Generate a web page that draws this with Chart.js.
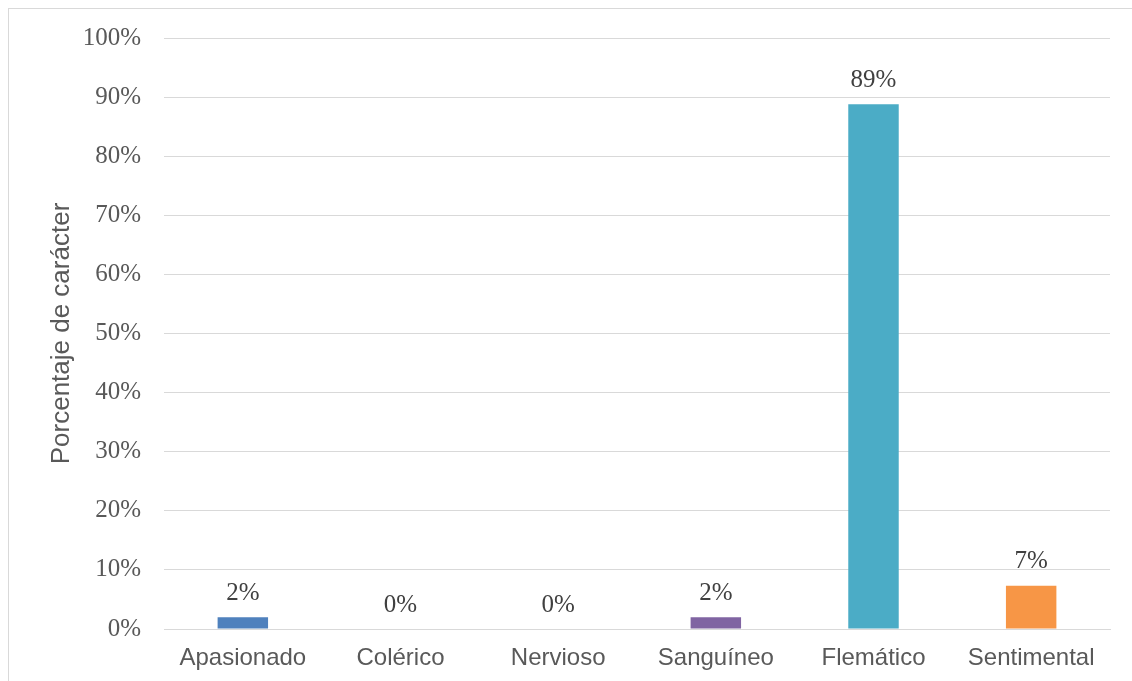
<!DOCTYPE html>
<html>
<head>
<meta charset="utf-8">
<script src="https://cdn.jsdelivr.net/npm/chart.js@4"></script>
<style>
  html, body { margin: 0; padding: 0; background: #fff; }
  #wrap { position: relative; width: 1132px; height: 681px; }
  #frame { position: absolute; left: 8px; top: 8px; width: 1140px; height: 690px; border: 1px solid #d9d9d9; box-sizing: border-box; }
  canvas { position: absolute; left: 0; top: 0; }
</style>
</head>
<body>
<div id="wrap">
  <div id="frame"></div>
  <canvas id="myChart" width="1132" height="681"></canvas>
</div>
<script>
// data
var categories = ['Apasionado', 'Colérico', 'Nervioso', 'Sanguíneo', 'Flemático', 'Sentimental'];
var values = [2.0, 0, 0, 2.0, 88.8, 7.3];
var valueLabels = ['2%', '0%', '0%', '2%', '89%', '7%'];
var barColors = ['#4f81bd', '#c0504d', '#9bbb59', '#8064a2', '#4bacc6', '#f79646'];
var yTicks = [0, 10, 20, 30, 40, 50, 60, 70, 80, 90, 100];

// labels above bars
const barLabels = {
  id: 'barLabels',
  afterDatasetsDraw(chart) {
    const ctx = chart.ctx;
    const meta = chart.getDatasetMeta(0);
    ctx.save();
    ctx.font = '25px "Liberation Serif"';
    ctx.fillStyle = '#404040';
    ctx.textAlign = 'center';
    ctx.textBaseline = 'middle';
    meta.data.forEach((bar, i) => {
      ctx.fillText(valueLabels[i], bar.x, bar.y - 24);
    });
    ctx.restore();
  }
};

let myChart = new Chart('myChart', {
  type: 'bar',
  data: {
    labels: categories,
    datasets: [{
      data: values,
      backgroundColor: barColors,
      borderWidth: 0,
      barPercentage: 0.32,
      categoryPercentage: 1.0
    }]
  },
  options: {
    responsive: false,
    animation: false,
    layout: { padding: { top: 36, right: 22, left: 0, bottom: 0 } },
    plugins: { legend: { display: false }, tooltip: { enabled: false } },
    scales: {
      x: {
        grid: { display: false, drawTicks: false },
        border: { color: '#d9d9d9', width: 1 },
        ticks: { color: '#595959', font: { family: 'Liberation Sans', size: 24 }, padding: 15 },
        afterFit(scale) { scale.height = 52; }
      },
      y: {
        min: 0,
        max: 100,
        afterBuildTicks(scale) { scale.ticks = yTicks.map(v => ({ value: v })); },
        grid: { color: '#d9d9d9', lineWidth: 1, drawTicks: false },
        border: { display: false },
        ticks: {
          color: '#595959',
          font: { family: 'Liberation Serif', size: 25 },
          padding: 23,
          callback: v => v + '%'
        },
        title: {
          display: true,
          text: 'Porcentaje de carácter',
          color: '#595959',
          font: { family: 'Liberation Sans', size: 26 },
          padding: { top: 46, bottom: 0 }
        },
        afterFit(scale) { scale.width = 164; }
      }
    }
  },
  plugins: [barLabels]
});
</script>
</body>
</html>
